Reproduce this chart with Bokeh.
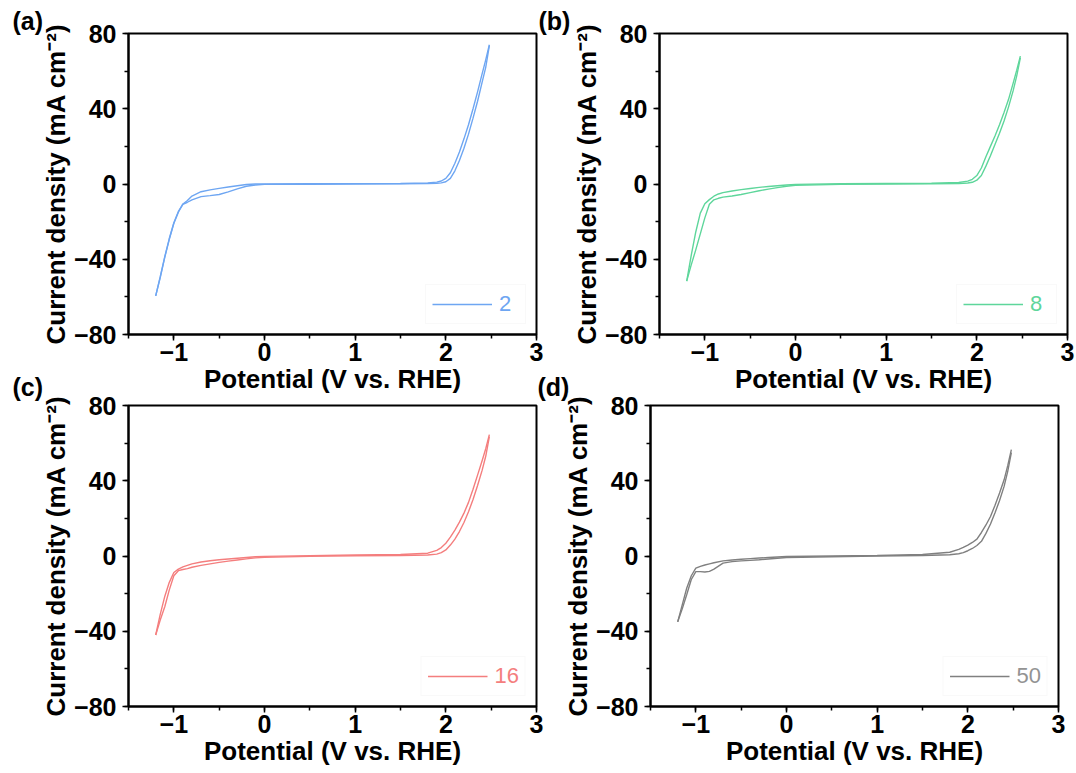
from bokeh.plotting import figure
from bokeh.models import (Range1d, SingleIntervalTicker, Legend, LegendItem,
                          CustomJSTickFormatter)
from bokeh.layouts import row, column
from bokeh.embed import file_html
from bokeh.resources import INLINE

# ---------------- data ----------------
POTENTIAL = [-1.2, -1.15, -1.1, -1.05, -1.0, -0.95, -0.9, -0.85, -0.8, -0.7, -0.6, -0.5,
             -0.4, -0.3, -0.2, -0.1, 0.0, 0.5, 1.0, 1.5, 1.8, 1.9, 1.95, 2.0, 2.05, 2.1,
             2.15, 2.2, 2.25, 2.3, 2.35, 2.4, 2.44, 2.48]

CYCLE2_UP = [-59.5, -49.8, -39.0, -29.4, -21.0, -15.0, -10.6, -8.8, -6.4, -4.1, -3.1, -2.3,
             -1.6, -0.9, -0.3, 0.0, 0.0, 0.1, 0.2, 0.3, 0.6, 1.0, 1.6, 3.0, 6.0, 11.0,
             17.0, 24.0, 31.5, 40.0, 49.0, 58.5, 66.0, 74.0]
CYCLE2_DOWN = [-59.5, -49.3, -38.6, -29.0, -20.6, -14.6, -10.8, -9.7, -8.4, -6.7, -6.2, -5.6,
               -4.2, -2.6, -1.2, -0.5, -0.2, -0.1, 0.0, 0.1, 0.2, 0.4, 0.6, 1.2, 3.0, 7.0,
               12.5, 19.0, 26.5, 35.0, 44.0, 54.0, 62.0, 73.5]

CYCLE8_UP = [-51.6, -38.0, -25.5, -15.5, -10.5, -8.3, -6.5, -5.3, -4.6, -3.7, -3.0, -2.4,
             -1.8, -1.3, -0.9, -0.5, -0.2, 0.1, 0.3, 0.4, 0.8, 1.5, 2.5, 4.5, 8.5, 14.5,
             20.0, 25.5, 31.5, 38.0, 45.0, 53.5, 60.5, 68.0]
CYCLE8_DOWN = [-51.6, -43.0, -35.0, -26.5, -18.0, -10.8, -8.4, -7.6, -7.0, -6.4, -5.6, -4.6,
               -3.6, -2.7, -1.9, -1.2, -0.7, -0.2, 0.0, 0.1, 0.2, 0.5, 0.9, 2.0, 4.5, 9.5,
               15.0, 21.0, 27.0, 33.5, 41.0, 49.5, 57.5, 67.0]

CYCLE16_UP = [-42.0, -31.0, -21.5, -14.0, -8.8, -7.0, -5.8, -5.0, -4.2, -3.2, -2.5, -2.0,
              -1.6, -1.2, -0.8, -0.4, -0.2, 0.2, 0.5, 0.8, 1.5, 3.0, 4.5, 6.8, 10.0, 13.8,
              18.0, 22.8, 28.5, 35.5, 43.0, 50.6, 57.0, 64.5]
CYCLE16_DOWN = [-42.0, -34.0, -27.0, -18.0, -10.5, -7.8, -7.2, -6.7, -6.0, -5.0, -4.2, -3.4,
                -2.7, -2.1, -1.5, -1.0, -0.7, -0.2, 0.1, 0.3, 0.5, 1.0, 1.8, 3.2, 5.8, 9.0,
                13.0, 17.8, 23.5, 30.0, 37.5, 45.5, 53.0, 63.5]

CYCLE50_UP = [-35.0, -26.0, -17.0, -10.5, -6.5, -5.5, -4.8, -4.2, -3.6, -2.6, -2.1, -1.7,
              -1.4, -1.1, -0.8, -0.5, -0.3, 0.0, 0.3, 0.8, 2.0, 3.5, 4.6, 5.8, 7.2, 9.0,
              12.5, 16.5, 21.0, 27.0, 33.5, 40.5, 48.0, 56.5]
CYCLE50_DOWN = [-35.0, -28.0, -20.5, -12.5, -8.3, -8.3, -8.5, -8.2, -7.0, -3.8, -3.0, -2.6,
                -2.3, -2.0, -1.6, -1.2, -0.8, -0.4, 0.0, 0.3, 0.7, 1.2, 1.8, 2.8, 4.0, 5.6,
                7.8, 12.0, 17.0, 23.0, 29.5, 37.0, 45.0, 55.0]

PANEL_TAGS = ["(a)", "(b)", "(c)", "(d)"]
CYCLE_LABELS = ["2", "8", "16", "50"]
LINE_COLORS = ["#6EA6F2", "#5ED69B", "#F47E7E", "#808080"]
TEXT_COLORS = ["#6EA6F2", "#5ED69B", "#F47E7E", "#939393"]

X_TICKS = [-1, 0, 1, 2, 3]
Y_TICKS = [-80, -40, 0, 40, 80]

X_LABEL = "Potential (V vs. RHE)"
Y_LABEL = "Current density (mA cm\u207b\u00b2)"

# ---------------- styling ----------------
FONT = "Liberation Sans"
X_MIN, X_MAX = -1.5, 3.0
Y_MIN, Y_MAX = -80.0, 80.0


def make_panel(tag, up, down, label, color, text_color, width, height, borders,
               tag_offset, tag_standoff):
    left, right, top, bottom = borders
    p = figure(width=width, height=height,
               x_range=Range1d(X_MIN, X_MAX), y_range=Range1d(Y_MIN, Y_MAX),
               output_backend="svg", toolbar_location=None, title=tag,
               min_border_left=left, min_border_right=right,
               min_border_top=top, min_border_bottom=bottom,
               border_fill_color=None, background_fill_color="white",
               outline_line_color="black", outline_line_width=2)
    p.grid.visible = False

    # panel tag as the figure title, pushed to the left of the frame
    p.title.align = "left"
    p.title.offset = tag_offset
    p.title.standoff = tag_standoff
    p.title.text_font = FONT
    p.title.text_font_style = "bold"
    p.title.text_font_size = "25px"
    p.title.text_color = "black"

    r1 = p.line(POTENTIAL, up, line_color=color, line_width=1.4)
    p.line(POTENTIAL, down, line_color=color, line_width=1.4)

    fmt = CustomJSTickFormatter(code="return tick < 0 ? '\u2212' + Math.abs(tick) : String(tick);")
    p.xaxis.ticker = SingleIntervalTicker(interval=X_TICKS[1] - X_TICKS[0], num_minor_ticks=2)
    p.yaxis.ticker = SingleIntervalTicker(interval=Y_TICKS[1] - Y_TICKS[0], num_minor_ticks=2)
    for ax in (p.xaxis[0], p.yaxis[0]):
        ax.formatter = fmt
        ax.axis_line_width = 2
        ax.axis_line_color = "black"
        ax.major_tick_line_width = 1.5
        ax.minor_tick_line_width = 1.5
        ax.major_tick_out = 6
        ax.major_tick_in = 0
        ax.minor_tick_out = 4
        ax.minor_tick_in = 0
        ax.major_label_text_font = FONT
        ax.major_label_text_font_style = "bold"
        ax.major_label_text_font_size = "25px"
        ax.major_label_text_color = "black"
        ax.axis_label_text_font = FONT
        ax.axis_label_text_font_style = "bold"
        ax.axis_label_text_font_size = "26px"
        ax.axis_label_text_color = "black"
    p.xaxis.axis_label = X_LABEL
    p.yaxis.axis_label = Y_LABEL
    p.xaxis.major_label_standoff = 2
    p.xaxis.axis_label_standoff = 0
    p.yaxis.major_label_standoff = 6
    p.yaxis.axis_label_standoff = 0

    legend = Legend(items=[LegendItem(label=label, renderers=[r1])],
                    location="bottom_right", margin=10, padding=6, spacing=0,
                    glyph_width=60, glyph_height=20, label_standoff=7,
                    label_text_font=FONT, label_text_font_size="22px",
                    label_text_color=text_color,
                    border_line_color="#f3f3f3", border_line_width=1,
                    background_fill_color="white", background_fill_alpha=1.0)
    p.add_layout(legend)
    return p


pa = make_panel(PANEL_TAGS[0], CYCLE2_UP, CYCLE2_DOWN, CYCLE_LABELS[0], LINE_COLORS[0],
                TEXT_COLORS[0], 548, 408, (128, 12, 33, 74), -116, -3)
pb = make_panel(PANEL_TAGS[1], CYCLE8_UP, CYCLE8_DOWN, CYCLE_LABELS[1], LINE_COLORS[1],
                TEXT_COLORS[1], 546, 408, (129, 9, 33, 74), -121, -3)
pc = make_panel(PANEL_TAGS[2], CYCLE16_UP, CYCLE16_DOWN, CYCLE_LABELS[2], LINE_COLORS[2],
                TEXT_COLORS[2], 548, 406, (128, 12, 39, 66), -116, 9)
pd = make_panel(PANEL_TAGS[3], CYCLE50_UP, CYCLE50_DOWN, CYCLE_LABELS[3], LINE_COLORS[3],
                TEXT_COLORS[3], 546, 406, (120, 18, 39, 66), -113, 9)

pb.margin = (0, 0, 0, -18)
pd.margin = (0, 0, 0, -18)
top_row = row(pa, pb)
bottom_row = row(pc, pd)
bottom_row.margin = (-42, 0, 0, 0)
layout = column(top_row, bottom_row)

open("out.html", "w").write(file_html(layout, INLINE, title="CV curves"))
